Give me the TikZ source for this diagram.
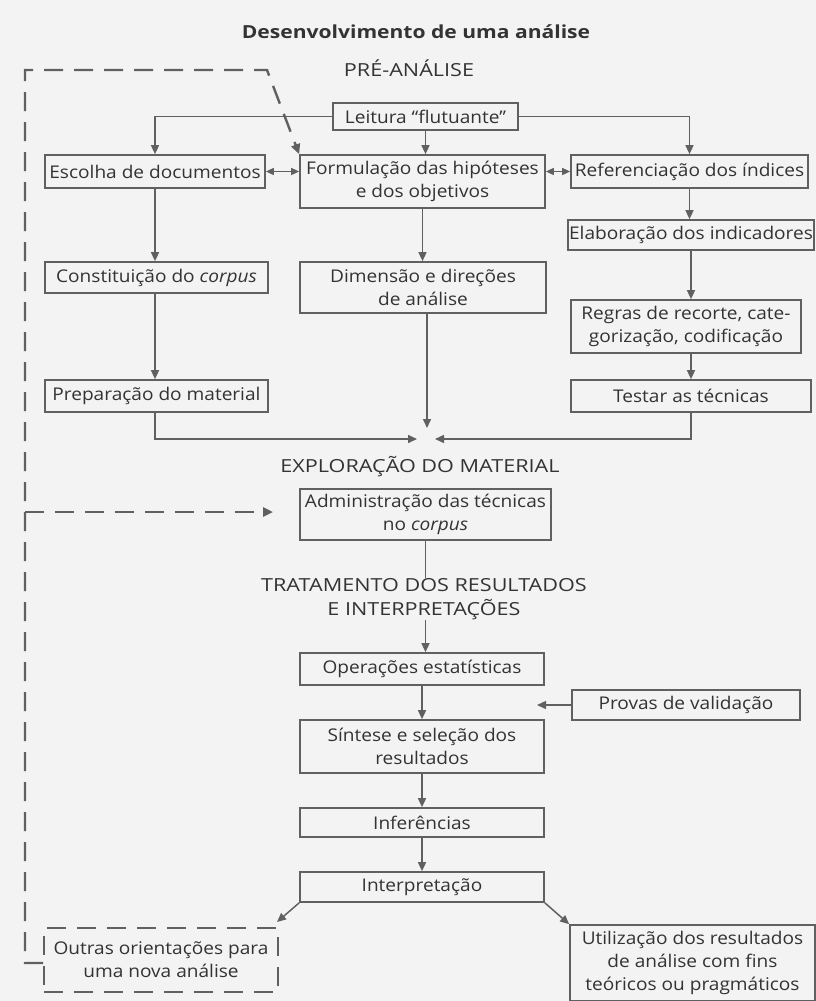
\documentclass[tikz,border=0pt]{standalone}
\usepackage{fontspec}
\setmainfont{Open Sans}
\newfontfamily\boxfont[FakeStretch=1.09]{Open Sans}
\newfontfamily\headfont[FakeStretch=1.2]{Open Sans}
\newfontfamily\titlefont[FakeStretch=1.17]{Open Sans}
\usetikzlibrary{arrows.meta,calc}
\definecolor{ink}{HTML}{333333}
\definecolor{rule}{HTML}{606060}
\definecolor{paper}{HTML}{F3F3F3}

\begin{document}
\begin{tikzpicture}[x=1pt,y=-1pt,
  box/.style={draw=rule, line width=1.7pt, inner sep=0pt, align=center, text=ink,
              font=\boxfont\fontsize{17.5}{23}\selectfont},
  head/.style={text=ink, align=center, inner sep=0pt, font=\headfont\fontsize{18}{24}\selectfont},
  conn/.style={draw=rule, line width=1.5pt},
  arr/.style={conn, -{Triangle[length=9pt,width=8pt]}},
  darr/.style={conn, {Triangle[length=8pt,width=7pt]}-{Triangle[length=8pt,width=7pt]}},
  loopline/.style={draw=rule, line width=2.4pt, dash pattern=on 19pt off 11pt},
]
\fill[paper] (0,0) rectangle (816,1001);
\useasboundingbox (0,0) rectangle (816,1001);

% headings
\node[head, font=\titlefont\fontsize{18}{24}\selectfont\bfseries] (title) at (416,32) {Desenvolvimento de uma análise};
\node[head] (pre) at (409,68) {PRÉ-ANÁLISE};
\node[head] (explor) at (420,467) {EXPLORAÇÃO DO MATERIAL};
\node[head] (trat) at (424,599) {TRATAMENTO DOS RESULTADOS\\E INTERPRETAÇÕES};

% pre-analysis boxes
\node[box, minimum width=185pt, minimum height=27pt] (leitura) at (425.5,116.5) {Leitura “flutuante”};
\node[box, minimum width=220pt, minimum height=33pt] (escolha) at (155,171.5) {Escolha de documentos};
\node[box, minimum width=245pt, minimum height=53pt] (formul) at (422.5,181.5) {Formulação das hipóteses\\e dos objetivos};
\node[box, minimum width=237pt, minimum height=33pt] (refer) at (689.5,171.5) {Referenciação dos índices};
\node[box, minimum width=246pt, minimum height=30pt] (elab) at (691,235) {Elaboração dos indicadores};
\node[box, minimum width=230pt, minimum height=53pt] (regras) at (686,326.5) {Regras de recorte, cate-\\gorização, codificação};
\node[box, minimum width=240pt, minimum height=32pt] (testar) at (691,396) {Testar as técnicas};
\node[box, minimum width=223pt, minimum height=31pt] (constit) at (156.5,277.5) {Constituição do \textit{corpus}};
\node[box, minimum width=223pt, minimum height=32pt] (prepar) at (156.5,396) {Preparação do material};
\node[box, minimum width=246pt, minimum height=51pt] (dimens) at (423,287.5) {Dimensão e direções\\de análise};

% meeting point of the three branches
\coordinate (convL) at (417,439);
\coordinate (convR) at (435,439);
\coordinate (convT) at (427,428);

% exploration and treatment
\node[box, minimum width=251pt, minimum height=51pt] (admin) at (425.5,514.5) {Administração das técnicas\\no \textit{corpus}};
\node[box, minimum width=244pt, minimum height=32pt] (operac) at (422,669) {Operações estatísticas};
\node[box, minimum width=244pt, minimum height=53pt] (sintese) at (422,746.5) {Síntese e seleção dos\\resultados};
\node[box, minimum width=228pt, minimum height=30pt] (provas) at (686,705) {Provas de validação};
\node[box, minimum width=244pt, minimum height=29pt] (infer) at (422,822.5) {Inferências};
\node[box, minimum width=244pt, minimum height=30pt] (interp) at (422,887) {Interpretação};
\node[box, dash pattern=on 19pt off 11pt, line width=2pt, minimum width=234pt, minimum height=64pt] (outras) at (161,960) {Outras orientações para\\uma nova análise};
\node[box, minimum width=245pt, minimum height=76pt] (utiliz) at (692.5,963) {Utilização dos resultados\\de análise com fins\\teóricos ou pragmáticos};
\coordinate (valid) at (537,705);
\coordinate (outrasTip) at (277,922);

% connectors of the pre-analysis
\draw[arr] (leitura.west) -| (escolha.north);
\draw[arr] (leitura.east) -| (refer.north);
\draw[arr] (leitura.south) -- (leitura.south |- formul.north);
\draw[darr] (escolha.east) -- (escolha.east -| formul.west);
\draw[darr] (formul.east |- refer.west) -- (refer.west);
\draw[arr] (refer.south) -- (refer.south |- elab.north);
\draw[arr] (elab.south) -- (elab.south |- regras.north);
\draw[arr] (elab.south |- regras.south) -- (elab.south |- testar.north);
\draw[arr] (escolha.south) -- (escolha.south |- constit.north);
\draw[arr] (escolha.south |- constit.south) -- (escolha.south |- prepar.north);
\draw[arr] (formul.south) -- (formul.south |- dimens.north);
\draw[arr] (escolha.south |- prepar.south) |- (convL);
\draw[arr] (elab.south |- testar.south) |- (convR);
\draw[arr] (convT |- dimens.south) -- (convT);

% connectors of exploration and treatment
\draw[conn] (admin.south) -- (admin.south |- trat.north);
\draw[arr] (admin.south |- trat.south) -- (admin.south |- operac.north);
\draw[arr] (operac.south) -- (sintese.north);
\draw[arr] (provas.west) -- (valid);
\draw[arr] (sintese.south) -- (infer.north);
\draw[arr] (infer.south) -- (interp.north);
\draw[arr] (interp.south west) -- (outrasTip);
\draw[arr] (interp.south east) -- (utiliz.north west);

% feedback loop
\coordinate (loopBL) at (25,963);
\coordinate (loopTL) at (25,70);
\coordinate (loopTR) at (267,70);
\coordinate (loopMid) at (25,512);
\coordinate (adminTip) at (273,512);
\draw[loopline, -{Triangle[length=10pt,width=9pt]}] (outras.west |- loopBL) -- (loopBL) -- (loopTL) -- (loopTR) -- (formul.north west);
\draw[loopline, -{Triangle[length=10pt,width=9pt]}] (loopMid) -- (adminTip);
\end{tikzpicture}
\end{document}
